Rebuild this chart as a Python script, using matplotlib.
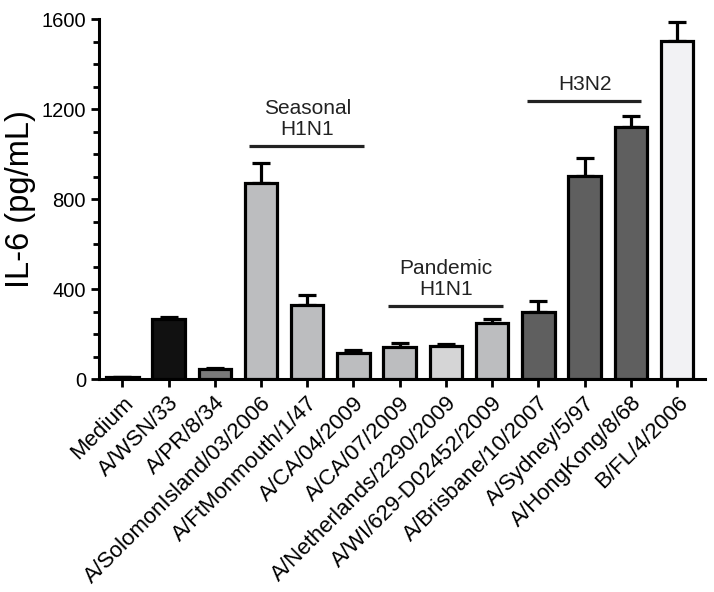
import matplotlib
matplotlib.use("Agg")
import matplotlib.pyplot as plt
from matplotlib.ticker import MultipleLocator
from matplotlib.transforms import ScaledTranslation

plt.rcParams['font.family'] = ['Liberation Sans', 'DejaVu Sans']

strains = ["Medium", "A/WSN/33", "A/PR/8/34", "A/SolomonIsland/03/2006",
           "A/FtMonmouth/1/47", "A/CA/04/2009", "A/CA/07/2009",
           "A/Netherlands/2290/2009", "A/WI/629-D02452/2009",
           "A/Brisbane/10/2007", "A/Sydney/5/97", "A/HongKong/8/68", "B/FL/4/2006"]
il6 = [8, 267, 44, 874, 332, 116, 142, 150, 249, 301, 904, 1123, 1505]
il6_err = [2, 11, 8, 86, 41, 14, 18, 8, 21, 49, 81, 49, 83]
colors = ["#ffffff", "#111111", "#7a7a7a", "#bcbdbf", "#bcbdbf", "#bcbdbf",
          "#bcbdbf", "#d5d5d6", "#bcbdbf", "#5f5f5f", "#5f5f5f", "#5f5f5f", "#f2f2f4"]

groups = ["Seasonal\nH1N1", "Pandemic\nH1N1", "H3N2"]
group_start = [3, 6, 9]
group_end = [5, 8, 11]
group_line_y = [1037, 326, 1238]

fig = plt.figure(figsize=(7.14, 5.92), dpi=100)
ax = fig.add_axes([0.139, 0.3593, 0.848, 0.6081])

x = list(range(len(strains)))
ax.bar(x, il6, width=0.70, color=colors, edgecolor="black", linewidth=2.3, zorder=3)
ax.errorbar(x, il6, yerr=[[0] * len(il6), il6_err], fmt="none", ecolor="black",
            elinewidth=2.3, capsize=6.5, capthick=2.3, zorder=2)

for name, s, e, ly in zip(groups, group_start, group_end, group_line_y):
    ax.plot([s - 0.25, e + 0.23], [ly, ly], color="#222222", lw=2.3, solid_capstyle="butt", clip_on=False)
    ax.text((s + e) / 2, ly + 30, name, ha="center", va="bottom", fontsize=15,
            linespacing=1.15, color="#222222")

ax.set_xlim(-0.5, 12.6)
ax.set_ylim(0, 1600)
ax.yaxis.set_major_locator(MultipleLocator(400))
ax.yaxis.set_minor_locator(MultipleLocator(100))
ax.set_xticks(x)
ax.set_xticklabels(strains, rotation=45, ha="right", rotation_mode="anchor", fontsize=16)
offset = ScaledTranslation(5 / 100, 1 / 100, fig.dpi_scale_trans)
for lbl in ax.get_xticklabels():
    lbl.set_transform(lbl.get_transform() + offset)
ax.tick_params(axis="y", labelsize=14.5, width=2, length=6, direction="out")
ax.tick_params(axis="y", which="minor", width=2, length=4)
ax.tick_params(axis="x", width=2, length=6, direction="out")
ax.set_ylabel("IL-6 (pg/mL)", fontsize=23.5, labelpad=4)

for sp in ["top", "right"]:
    ax.spines[sp].set_visible(False)
for sp in ["left", "bottom"]:
    ax.spines[sp].set_linewidth(2.2)

fig.savefig("out.png", dpi=100)
